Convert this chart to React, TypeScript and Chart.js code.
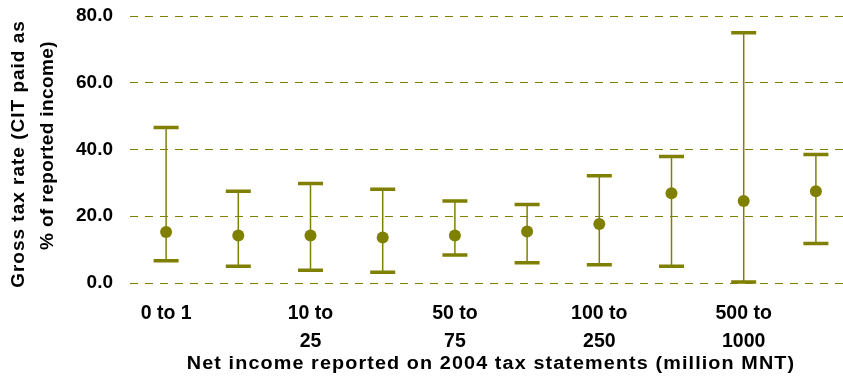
import React, { useEffect, useRef } from "react";
import { Chart, registerables } from "chart.js";

Chart.register(...registerables);

// ---- data ----
const categories = [
  "0 to 1",
  "1 to 10",
  "10 to 25",
  "25 to 50",
  "50 to 75",
  "75 to 100",
  "100 to 250",
  "250 to 500",
  "500 to 1000",
  "over 1000",
];
const midValues = [15.3, 14.2, 14.2, 13.6, 14.2, 15.4, 17.7, 26.9, 24.6, 27.5];
const upperValues = [46.6, 27.5, 29.8, 28.1, 24.6, 23.5, 32.1, 37.9, 75.0, 38.5];
const lowerValues = [6.7, 5.0, 3.8, 3.2, 8.4, 6.1, 5.5, 5.0, 0.3, 11.8];
const yTickValues = [0, 20, 40, 60, 80];
const yTitleLines = ["Gross tax rate (CIT paid as", "% of reported income)"];
const xTitle = "Net income reported on 2004 tax statements (million MNT)";

const OLIVE = "#808000";
const FONT = "'Liberation Sans', Arial, sans-serif";

function wrapLabel(s: string): string | string[] {
  if (s.length <= 6) return s;
  const i = s.lastIndexOf(" ");
  return [s.slice(0, i), s.slice(i + 1)];
}

const errorBarsPlugin = {
  id: "errorBars",
  beforeDatasetsDraw(chart: any) {
    const { ctx, scales } = chart;
    const x = scales.x;
    const y = scales.y;
    ctx.save();
    ctx.strokeStyle = OLIVE;
    categories.forEach((_, i) => {
      const px = x.getPixelForValue(i);
      const top = y.getPixelForValue(upperValues[i]);
      const bot = y.getPixelForValue(lowerValues[i]);
      ctx.lineWidth = 1.5;
      ctx.beginPath();
      ctx.moveTo(px, top);
      ctx.lineTo(px, bot);
      ctx.stroke();
      ctx.lineWidth = 3.5;
      ctx.beginPath();
      ctx.moveTo(px - 12.5, top);
      ctx.lineTo(px + 12.5, top);
      ctx.moveTo(px - 12.5, bot);
      ctx.lineTo(px + 12.5, bot);
      ctx.stroke();
    });
    ctx.restore();
  },
};

const titlesPlugin = {
  id: "titles",
  afterDraw(chart: any) {
    const { ctx, chartArea } = chart;
    ctx.save();
    ctx.fillStyle = "#000";
    ctx.textAlign = "center";
    ctx.textBaseline = "middle";

    // x-axis title, centred under the plot area
    ctx.save();
    ctx.font = `bold 18px ${FONT}`;
    (ctx as any).letterSpacing = "1px";
    const cx = (chartArea.left + chartArea.right) / 2;
    ctx.translate(cx, 364.5);
    ctx.scale(1.1, 1);
    ctx.fillText(xTitle, 0, 0);
    ctx.restore();

    // y-axis title, two rotated lines
    const cy = (chartArea.top + chartArea.bottom) / 2;
    const lineX = [19, 47.5];
    const lineDy = [4.5, -4];
    const lineSpacing = ["1px", "0.4px"];
    yTitleLines.forEach((t, i) => {
      ctx.save();
      ctx.font = `bold 19px ${FONT}`;
      (ctx as any).letterSpacing = lineSpacing[i];
      ctx.translate(lineX[i], cy + lineDy[i]);
      ctx.rotate(-Math.PI / 2);
      ctx.fillText(t, 0, 0);
      ctx.restore();
    });
    ctx.restore();
  },
};

export default function App() {
  const ref = useRef<HTMLCanvasElement | null>(null);

  useEffect(() => {
    if (!ref.current) return;
    const chart = new Chart(ref.current, {
      type: "line",
      data: {
        labels: categories,
        datasets: [
          {
            data: midValues,
            showLine: false,
            pointRadius: 6,
            pointBackgroundColor: OLIVE,
            pointBorderColor: OLIVE,
            pointBorderWidth: 0,
            pointHoverRadius: 6,
          },
        ],
      },
      options: {
        animation: false,
        responsive: false,
        maintainAspectRatio: false,
        events: [],
        layout: { autoPadding: false, padding: { left: 0, right: 8, top: 16, bottom: 0 } },
        plugins: {
          legend: { display: false },
          tooltip: { enabled: false },
        },
        scales: {
          x: {
            offset: true,
            grid: { display: false, drawTicks: false },
            border: { display: false },
            ticks: {
              autoSkip: false,
              maxRotation: 0,
              padding: 16.5,
              color: "#000",
              font: { family: FONT, size: 19.5, weight: "bold", lineHeight: 1.436 },
              callback: (_v: any, i: number) =>
                i % 2 === 0 ? wrapLabel(categories[i]) : null,
            },
            afterFit: (s: any) => {
              s.height = 96;
              s.paddingLeft = 0;
              s.paddingRight = 0;
            },
          },
          y: {
            min: 0,
            max: 80,
            grid: { color: OLIVE, lineWidth: 1, drawTicks: false },
            border: { display: false, dash: [8, 7] },
            afterBuildTicks: (s: any) => {
              s.ticks = yTickValues.map((v) => ({ value: v }));
            },
            ticks: {
              padding: 17,
              color: "#000",
              font: { family: FONT, size: 19, weight: "bold" },
              callback: (v: any) => Number(v).toFixed(1),
            },
            afterFit: (s: any) => {
              s.width = 130;
              s.paddingTop = 0;
              s.paddingBottom = 0;
            },
          },
        },
      },
      plugins: [errorBarsPlugin, titlesPlugin],
    });
    return () => chart.destroy();
  }, []);

  return (
    <div
      style={{
        position: "absolute",
        left: 0,
        top: 0,
        width: 843,
        height: 379,
        overflow: "hidden",
        background: "#fff",
      }}
    >
      <canvas ref={ref} width={860} height={379} style={{ display: "block" }} />
    </div>
  );
}
